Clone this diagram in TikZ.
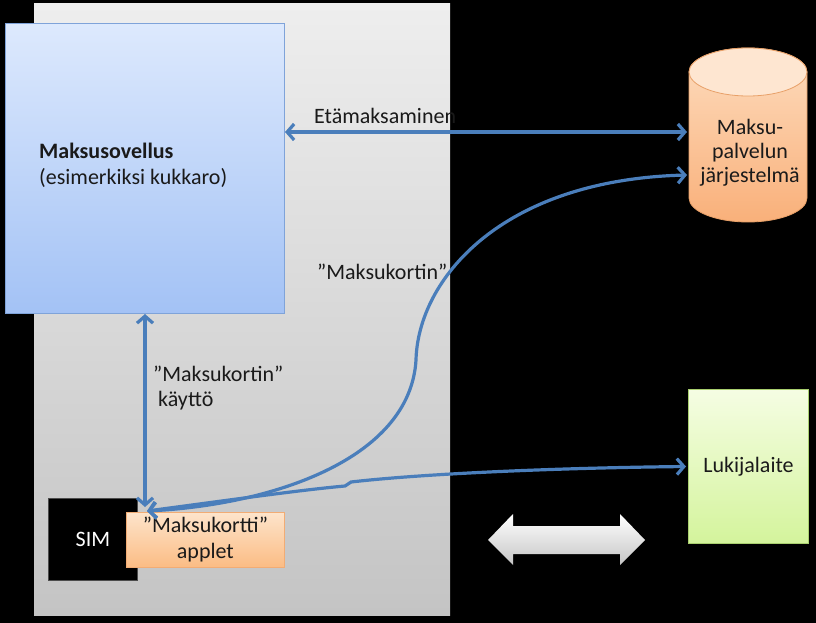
\documentclass[tikz,border=0pt]{standalone}
\usepackage{fontspec}
\setmainfont{Carlito}
\usetikzlibrary{arrows.meta,calc}
\definecolor{lineblue}{HTML}{4A7EBB}
\definecolor{phonetop}{HTML}{EEEEEE}
\definecolor{phonebot}{HTML}{C4C4C4}
\definecolor{apptop}{HTML}{DDE9FD}
\definecolor{appbot}{HTML}{A3C2F5}
\definecolor{appdraw}{HTML}{7FA3D9}
\definecolor{cyltop}{HTML}{FDDCBE}
\definecolor{cylbot}{HTML}{F9B07A}
\definecolor{cyldraw}{HTML}{E8A068}
\definecolor{redtop}{HTML}{F5FDE3}
\definecolor{redbot}{HTML}{D4F49C}
\definecolor{reddraw}{HTML}{A9CF6F}
\definecolor{apltop}{HTML}{FDE4CB}
\definecolor{aplbot}{HTML}{FBBC84}
\definecolor{apldraw}{HTML}{F2AC74}
\definecolor{txt}{HTML}{1A1A1A}
\begin{document}
\begin{tikzpicture}[x=1pt,y=-1pt,
  box/.style={rectangle, inner sep=0pt, anchor=north west},
  phonebox/.style={box, top color=phonetop, bottom color=phonebot, draw=none},
  appbox/.style={box, top color=apptop, bottom color=appbot, draw=appdraw, line width=1pt},
  readerbox/.style={box, top color=redtop, bottom color=redbot, draw=reddraw, line width=1pt, text=txt, font=\fontsize{22}{25}\selectfont},
  simbox/.style={box, fill=black, draw=gray!60!black, line width=0.8pt, text=white, font=\fontsize{22}{25}\selectfont},
  appletbox/.style={box, top color=apltop, bottom color=aplbot, draw=apldraw, line width=0.8pt, text=txt, align=center, font=\fontsize{22}{26}\selectfont},
  lbl/.style={inner sep=0pt, text=txt, font=\fontsize{22}{25}\selectfont},
  conn/.style={draw=lineblue, line width=3.2pt, line cap=round},
  dbl/.style={conn, {Straight Barb[length=7pt,width=16pt]}-{Straight Barb[length=7pt,width=16pt]}},
]
\fill[black] (0,0) rectangle (816,623);
\useasboundingbox (0,0) rectangle (816,623);

% phone body
\node[phonebox, minimum width=416pt, minimum height=612pt] (phone) at (34,3) {};

% payment application
\node[appbox, minimum width=279pt, minimum height=290pt] (app) at (5,23) {};
\node[lbl, anchor=west, align=left, font=\fontsize{22}{26}\selectfont] (apptext) at (39,165)
  {\textbf{Maksusovellus}\\(esimerkiksi kukkaro)};

% cylinder (payment service system)
\fill[top color=cyltop, bottom color=cylbot, draw=cyldraw, line width=0.8pt]
  (689,72) -- (689,198) arc[start angle=180, end angle=0, x radius=59, y radius=24]
  -- (807,72) arc[start angle=0, end angle=-180, x radius=59, y radius=24] -- cycle;
\draw[fill=cyltop!70!white, draw=cyldraw, line width=0.8pt] (748,72) ellipse[x radius=59, y radius=24];
\node[lbl, minimum width=118pt, align=center, font=\fontsize{22}{24}\selectfont] (cyl) at (750,153)
  {Maksu-\\palvelun\\järjestelmä};

% reader device
\node[readerbox, minimum width=120pt, minimum height=154pt] (reader) at (688,389) {Lukijalaite};

% SIM and applet
\node[simbox, minimum width=89pt, minimum height=82pt] (sim) at (48,498) {SIM};
\node[appletbox, minimum width=158pt, minimum height=55pt] (applet) at (126,512) {”Maksukortti”\\applet};

% white double arrow
\fill[top color=white, bottom color=gray!45] (488,540) -- (513,514) -- (513,526) -- (620,526) -- (620,514)
  -- (645,540) -- (620,565) -- (620,554) -- (513,554) -- (513,565) -- cycle;

% labels
\node[lbl, anchor=west] (etalbl) at (314,116) {Etämaksaminen};
\node[lbl, anchor=west] (mklbl) at (317,272) {”Maksukortin”};
\node[lbl, anchor=north west, align=left] (kaylbl) at (153,366) {”Maksukortin”\\\hspace*{5pt}käyttö};

% coordinates
\coordinate (tip) at ($(applet.north west)+(21,-1)$);
\coordinate (cylA) at (687,132);
\coordinate (cylB) at (687,175);

% connectors
\draw[dbl] (app.east |- cylA) -- (cylA);
\draw[dbl] (app.south -| 145,0) -- (145,507);
\draw[dbl] (tip) .. controls (270,505) and (410,460) .. (416,360)
  .. controls (418,280) and (500,180) .. (cylB);
\draw[dbl] (tip) .. controls (230,500) and (300,490) .. (345,486) -- (351,482)
  .. controls (420,474) and (550,468) .. ($(reader.west)+(-2,0)$);
\end{tikzpicture}
\end{document}
